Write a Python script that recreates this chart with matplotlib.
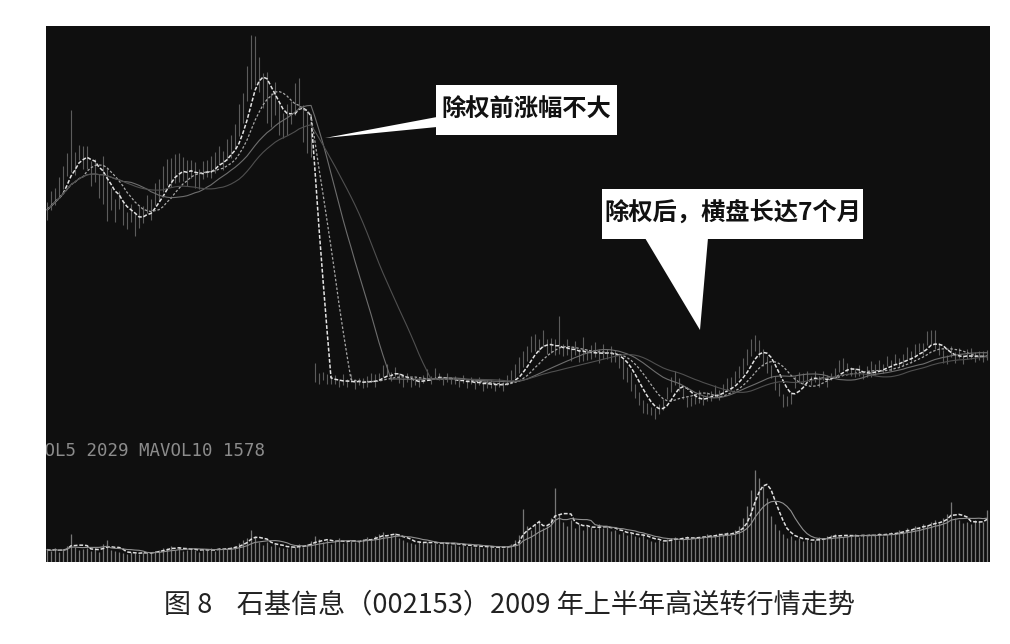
import matplotlib
matplotlib.use("Agg")
import matplotlib.pyplot as plt
import numpy as np
import pandas as pd
from matplotlib.patches import Polygon, Rectangle

plt.rcParams['font.family'] = ['Noto Sans CJK SC', 'DejaVu Sans']

# daily close, 2009 (ex-rights at bar 67)
close = [
    31.8, 32.5, 33.4, 34.0, 35.2, 36.0, 37.1, 36.4, 37.5, 36.8,
    37.2, 36.0, 35.6, 34.5, 35.0, 33.6, 33.0, 32.2, 32.8, 31.6,
    31.0, 31.4, 30.6, 30.9, 31.5, 32.2, 32.0, 33.1, 33.8, 34.5,
    35.6, 35.1, 36.0, 35.4, 35.9, 35.2, 35.8, 35.3, 35.0, 35.6,
    36.0, 35.8, 36.6, 37.0, 36.8, 37.6, 38.2, 38.8, 40.5, 42.0,
    43.8, 45.6, 46.2, 45.0, 44.1, 43.0, 41.8, 42.5, 41.2, 40.4,
    40.9, 41.5, 42.6, 43.4, 41.0, 39.6, 38.8,
    15.6, 15.0, 15.3, 14.8, 15.1, 14.9, 14.6, 14.9, 14.7, 15.0,
    14.6, 14.8, 14.5, 14.9, 15.1, 14.8, 15.2, 15.6, 15.9, 15.4,
    15.7, 15.2, 14.8, 15.0, 14.7, 14.9, 14.6, 15.0, 15.3, 15.0,
    15.5, 15.2, 14.9, 15.1, 14.8, 15.0, 14.7, 14.9, 14.6, 14.8,
    14.5, 14.7, 14.4, 14.6, 14.5, 14.3, 14.6, 14.4, 14.8, 15.2,
    15.6, 16.0, 16.8, 17.5, 18.2, 18.6, 18.3, 18.7, 18.2, 18.5,
    18.0, 18.3, 17.8, 18.1, 17.7, 18.0, 17.5, 17.8, 17.4, 17.7,
    17.8, 17.4, 17.7, 17.5, 17.6, 17.3, 16.9, 16.2, 15.6, 15.0,
    14.0, 13.2, 12.6, 12.2, 12.0, 11.8, 12.0, 12.6, 13.6, 14.6,
    15.0, 14.6, 13.6, 12.9, 12.8, 13.1, 13.4, 13.0, 13.3, 13.5,
    13.8, 13.6, 14.0, 14.4, 14.6, 15.0, 15.6, 16.2, 17.0, 17.8,
    18.4, 18.0, 17.2, 16.6, 15.8, 14.8, 14.0, 13.2, 12.9, 13.2,
    14.6, 15.2, 15.0, 15.4, 14.8, 15.2, 14.9, 15.3, 14.8, 15.2,
    15.6, 16.2, 16.5, 16.1, 15.8, 15.5, 15.9, 15.4, 15.7, 15.6,
    16.0, 16.3, 16.1, 16.6, 16.4, 16.9, 16.7, 17.0, 17.4, 17.2,
    17.8, 18.1, 18.0, 18.9, 19.1, 18.4, 18.0, 17.4, 17.0, 17.6,
    17.2, 17.5, 17.0, 17.3, 17.6, 17.1, 17.4, 17.0, 17.3,
]

# upper / lower shadow length above and below the close
wick_up = [
    0.8, 1.2, 0.6, 1.0, 0.9, 1.4, 4.6, 1.1, 0.7, 1.3,
    0.9, 0.6, 1.2, 0.8, 2.1, 2.3, 1.0, 0.7, 0.9, 1.2,
    0.6, 1.0, 0.8, 1.3, 0.7, 1.1, 0.9, 1.4, 1.0, 1.6,
    1.2, 1.8, 1.3, 2.0, 1.1, 1.5, 0.9, 1.2, 0.8, 1.0,
    0.7, 1.3, 0.9, 1.1, 0.8, 1.2, 1.0, 1.5, 1.8, 1.4,
    2.2, 3.5, 2.8, 1.9, 1.2, 2.4, 1.6, 2.0, 1.3, 1.0,
    1.4, 1.1, 1.8, 1.5, 1.2, 1.9, 1.1,
    1.0, 0.6, 0.4, 0.7, 0.3, 0.5, 0.4, 0.6, 0.3, 0.5,
    0.4, 0.3, 0.6, 0.4, 0.5, 0.7, 0.4, 0.8, 0.6, 0.3,
    0.5, 0.4, 0.3, 0.6, 0.4, 0.3, 0.5, 0.4, 0.7, 0.3,
    0.6, 0.4, 0.3, 0.5, 0.4, 0.3, 0.4, 0.5, 0.3, 0.4,
    0.3, 0.5, 0.4, 0.3, 0.4, 0.3, 0.5, 0.3, 0.6, 0.7,
    0.9, 1.2, 1.0, 0.8, 1.1, 0.9, 0.7, 1.2, 0.8, 0.6,
    1.0, 3.0, 0.7, 0.9, 0.6, 0.8, 0.5, 1.4, 0.6, 0.7,
    0.9, 0.6, 0.8, 0.5, 0.7, 0.6, 0.5, 0.8, 0.6, 0.7,
    0.5, 0.6, 0.4, 0.5, 0.3, 0.4, 0.6, 0.5, 0.7, 0.6,
    0.8, 0.5, 0.6, 0.4, 0.5, 0.3, 0.6, 0.4, 0.5, 0.4,
    0.6, 0.4, 0.5, 0.7, 0.6, 0.8, 0.7, 0.9, 1.0, 1.2,
    1.0, 0.9, 0.8, 0.7, 0.6, 0.5, 0.6, 0.4, 0.5, 0.6,
    0.7, 0.5, 0.6, 0.4, 0.5, 0.6, 0.4, 0.5, 0.6, 0.4,
    0.5, 0.7, 0.6, 0.5, 0.4, 0.6, 0.5, 0.4, 0.6, 1.2,
    0.5, 0.6, 0.4, 0.7, 0.5, 0.6, 0.4, 0.5, 0.8, 0.6,
    0.7, 0.5, 0.6, 0.9, 0.8, 1.5, 0.6, 0.5, 0.4, 0.7,
    0.5, 0.6, 0.4, 0.7, 0.5, 0.6, 0.4, 0.8, 0.6,
]
wick_dn = [
    1.0, 0.7, 1.1, 0.8, 1.3, 0.9, 1.6, 1.2, 0.8, 1.0,
    1.4, 1.8, 1.0, 1.5, 2.6, 2.9, 1.2, 1.6, 0.9, 1.3,
    1.1, 0.8, 1.4, 0.9, 1.0, 0.7, 1.2, 0.8, 1.1, 0.9,
    1.3, 1.0, 1.5, 0.8, 1.2, 1.0, 0.9, 1.3, 1.1, 0.8,
    1.0, 0.9, 1.2, 0.7, 1.1, 0.9, 1.3, 1.0, 1.4, 1.6,
    1.2, 1.8, 2.0, 1.5, 2.2, 2.6, 1.8, 1.3, 2.0, 1.5,
    1.7, 1.2, 1.4, 1.6, 2.5, 2.2, 1.8,
    0.9, 0.5, 0.4, 0.3, 0.6, 0.4, 0.3, 0.5, 0.4, 0.3,
    0.5, 0.4, 0.3, 0.6, 0.4, 0.5, 0.3, 0.4, 0.5, 0.6,
    0.4, 0.6, 0.5, 0.3, 0.4, 0.5, 0.3, 0.4, 0.3, 0.5,
    0.4, 0.3, 0.5, 0.4, 0.3, 0.5, 0.4, 0.3, 0.4, 0.3,
    0.4, 0.3, 0.5, 0.4, 0.3, 0.4, 0.3, 0.5, 0.4, 0.3,
    0.5, 0.4, 0.6, 0.7, 0.5, 0.8, 0.6, 0.5, 0.7, 0.9,
    0.6, 0.8, 0.5, 0.7, 0.9, 0.6, 0.8, 1.0, 0.5, 0.7,
    0.6, 0.8, 0.7, 0.5, 0.9, 0.6, 0.8, 1.2, 0.9, 1.1,
    0.8, 0.7, 0.9, 0.6, 0.5, 0.7, 0.4, 0.6, 0.5, 0.8,
    0.6, 0.7, 0.5, 0.6, 0.4, 0.5, 0.7, 0.5, 0.4, 0.6,
    0.5, 0.6, 0.4, 0.5, 0.6, 0.4, 0.5, 0.7, 0.6, 0.5,
    0.6, 0.8, 0.9, 1.0, 0.7, 0.8, 0.6, 0.9, 0.5, 0.6,
    0.4, 0.6, 0.5, 0.7, 0.4, 0.5, 0.6, 0.4, 0.5, 0.3,
    0.4, 0.5, 0.6, 0.4, 0.5, 0.3, 0.6, 0.4, 0.5, 0.4,
    0.6, 0.4, 0.5, 0.3, 0.6, 0.4, 0.5, 0.7, 0.4, 0.6,
    0.5, 0.4, 0.6, 0.5, 0.7, 0.4, 0.6, 0.8, 0.5, 0.4,
    0.6, 0.4, 0.5, 0.3, 0.6, 0.4, 0.5, 0.3, 0.4,
]

volume = [
    620, 540, 700, 480, 650, 820, 1400, 760, 580, 640,
    720, 560, 680, 500, 900, 1100, 620, 540, 480, 450,
    420, 500, 460, 380, 520, 440, 480, 560, 600, 720,
    680, 820, 600, 740, 560, 620, 700, 580, 520, 640,
    600, 680, 560, 720, 640, 700, 760, 820, 950, 1100,
    1200, 1600, 1300, 980, 860, 1000, 820, 900, 760, 700,
    680, 740, 820, 900, 760, 880, 1050,
    1300, 1150, 980, 1100, 900, 1050, 1200, 950, 1000, 1120,
    980, 1060, 1150, 1250, 1100, 1300, 1400, 1500, 1250, 1350,
    1450, 1200, 1100, 1000, 950, 900, 1050, 980, 1020, 900,
    960, 880, 1000, 920, 850, 940, 800, 860, 780, 820,
    760, 800, 720, 780, 740, 700, 760, 720, 820, 900,
    1100, 1350, 2650, 1800, 1600, 1900, 2100, 1700, 1800, 2200,
    3700, 2400, 2000, 1800, 2100, 1700, 1900, 1600, 1800, 1750,
    1650, 1900, 1700, 1800, 1550, 1600, 1400, 1500, 1350, 1450,
    1300, 1250, 1400, 1150, 1050, 980, 1100, 1000, 1150, 1200,
    1250, 1100, 1200, 1300, 1150, 1250, 1200, 1300, 1400, 1350,
    1300, 1450, 1400, 1500, 1350, 1600, 1800, 2200, 2800, 3600,
    4600, 4200, 3800, 3200, 2300, 1900, 1600, 1400, 1200, 1300,
    1100, 1200, 1050, 1150, 1000, 1100, 1250, 1200, 1300, 1350,
    1400, 1300, 1250, 1350, 1300, 1400, 1250, 1350, 1300, 1400,
    1350, 1450, 1300, 1400, 1500, 1450, 1600, 1550, 1700, 1650,
    1800, 1750, 1900, 1850, 2000, 2100, 1950, 2200, 2400, 3000,
    2200, 2100, 1950, 2000, 1900, 2100, 2050, 2000, 2600,
]

ma_periods = [5, 10, 20, 30]
ma_styles = [('#e4e4e4', 1.1, (0, (2.5, 1.2))), ('#a8a8a8', 0.9, (0, (2, 1.5))),
             ('#6e6e6e', 0.8, '-'), ('#505050', 0.8, '-')]

note_before = '除权前涨幅不大'
note_after = '除权后，横盘长达7个月'
vol_label = 'VOL5 2029 MAVOL10 1578'
caption = '图 8    石基信息（002153）2009 年上半年高送转行情走势'

W, H = 1010, 644
BG = '#0f0f0f'

df = pd.DataFrame({'close': close, 'up': wick_up, 'dn': wick_dn, 'vol': volume})
df['high'] = df['close'] + df['up']
df['low'] = df['close'] - df['dn']
x = np.arange(len(df))

fig = plt.figure(figsize=(W / 100, H / 100), dpi=100)
fig.patch.set_facecolor('white')

def fpos(left, top, right, bottom):
    # pixel box -> figure fraction rect
    return [left / W, 1 - bottom / H, (right - left) / W, (bottom - top) / H]

ax = fig.add_axes(fpos(46, 26, 990, 437))
axv = fig.add_axes(fpos(46, 437, 990, 562))
for a in (ax, axv):
    a.set_facecolor(BG)
    a.set_xticks([])
    a.set_yticks([])
    for s in a.spines.values():
        s.set_visible(False)
    a.set_xlim(-0.25, len(df) - 0.25)

# candles
ax.vlines(x, df['low'], df['high'], color='#5c5c5c', lw=0.8)
for n, (c, lw, ls) in zip(ma_periods, ma_styles):
    ax.plot(x, df['close'].rolling(n, min_periods=1).mean(), color=c, lw=lw, ls=ls)
ax.set_ylim(9.3, 50.0)

# volume
axv.vlines(x, 0, df['vol'], color='#777777', lw=0.9)
axv.plot(x, df['vol'].rolling(5, min_periods=1).mean(), color='#e0e0e0', lw=1.1, ls=(0, (2.5, 1.2)))
axv.plot(x, df['vol'].rolling(10, min_periods=1).mean(), color='#909090', lw=0.8)
axv.set_ylim(0, 6250)
axv.text(-0.013, 0.89, vol_label, transform=axv.transAxes, color='#8c8c8c',
         fontsize=12.5, family='DejaVu Sans Mono', va='center', ha='left', clip_on=True)

# callouts (figure pixel coords)
def fp(px, py):
    return (px / W, 1 - py / H)

def callout(box, wedge, text, size):
    l, t, r, b = box
    fig.patches.append(Rectangle(fp(l, b), (r - l) / W, (b - t) / H, transform=fig.transFigure,
                                 facecolor='white', edgecolor='none', zorder=5))
    fig.patches.append(Polygon([fp(*p) for p in wedge], closed=True, transform=fig.transFigure,
                               facecolor='white', edgecolor='none', zorder=5))
    cx, cy = fp((l + r) / 2, (t + b) / 2)
    fig.text(cx, cy, text, ha='center', va='center', fontsize=size, fontweight='bold',
             color='#111111', zorder=6)

callout((436, 85, 617, 135), [(437, 117), (325, 138), (437, 127)], note_before, 17.5)
callout((602, 189, 863, 239), [(645, 238), (700, 330), (708, 238)], note_after, 17.5)

cx, cy = fp(510, 605)
fig.text(cx, cy, caption, ha='center', va='center', fontsize=19.5, color='#222222')

fig.savefig('out.png', dpi=100, facecolor=fig.get_facecolor())
